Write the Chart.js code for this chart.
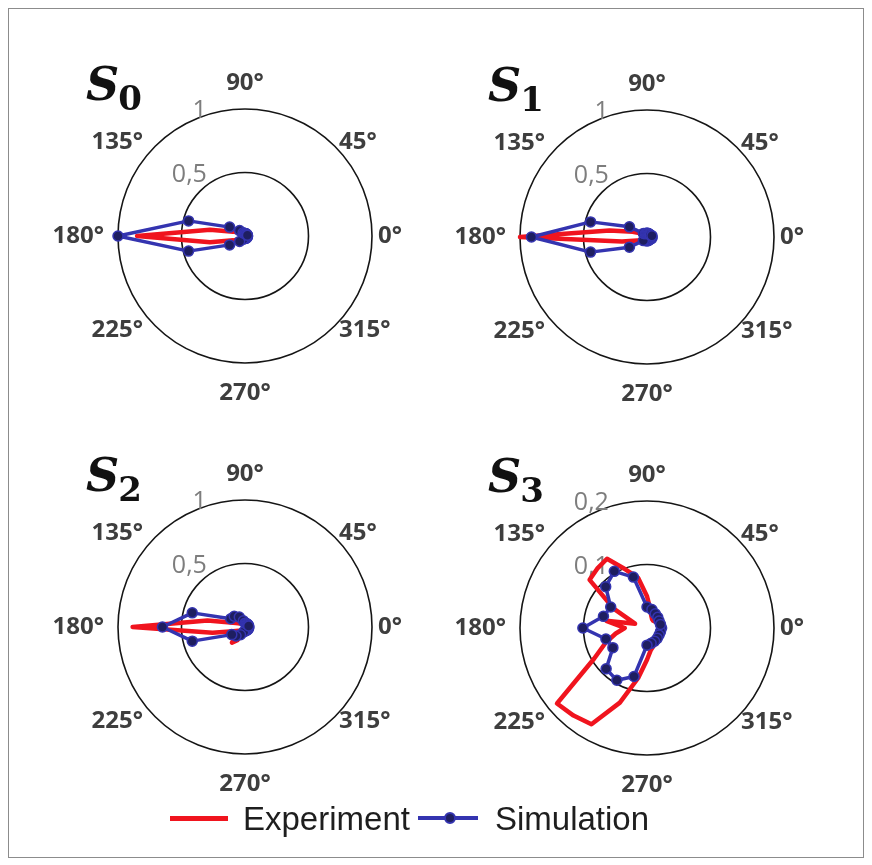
<!DOCTYPE html>
<html>
<head>
<meta charset="utf-8">
<script src="https://cdn.jsdelivr.net/npm/chart.js@4.4.1/dist/chart.umd.min.js"></script>
<style>
  html, body { margin: 0; padding: 0; background: #fff; }
  #fig { position: relative; width: 872px; height: 865px; overflow: hidden; background: #fff; }
  #frame { position: absolute; left: 8px; top: 8px; width: 856px; height: 850px;
           border: 1px solid #8c8c8c; box-sizing: border-box; }
  canvas { position: absolute; }
  .leg-text { position: absolute; font: 33px "Liberation Sans", Arial, sans-serif; color: #1e1e1e;
              line-height: 33px; white-space: nowrap; }
  .leg-line { position: absolute; height: 5px; }
  .leg-dot { position: absolute; width: 8px; height: 8px; border-radius: 50%;
             background: #1e1e60; border: 2px solid #3434b0; }
</style>
</head>
<body>
<div id="fig">
  <div id="frame"></div>
  <canvas id="pS0" width="400" height="380" style="left:45px;top:46px"></canvas>
  <canvas id="pS1" width="400" height="380" style="left:447px;top:47px"></canvas>
  <canvas id="pS2" width="400" height="380" style="left:45px;top:437px"></canvas>
  <canvas id="pS3" width="400" height="380" style="left:447px;top:438px"></canvas>

  <div class="leg-line" style="left:170px;top:816px;width:58px;background:#f0141e"></div>
  <div class="leg-text" style="left:243px;top:802px">Experiment</div>
  <div class="leg-line" style="left:418px;top:816px;width:60px;height:4px;background:#3434b0"></div>
  <div class="leg-dot" style="left:444px;top:812px"></div>
  <div class="leg-text" style="left:495px;top:802px">Simulation</div>
</div>

<script>
// Polar angles in degrees, counter-clockwise from 0° (east)
const simAngles = [0, 15, 30, 45, 60, 75, 90, 105, 120, 135, 150, 165,
                   180, 195, 210, 225, 240, 255, 270, 285, 300, 315, 330, 345];
const expAngles = [0, 10, 20, 30, 40, 50, 60, 70, 80, 90, 100, 110,
                   120, 130, 140, 150, 160, 170, 180, 190, 200, 210, 220, 230,
                   240, 250, 260, 270, 280, 290, 300, 310, 320, 330, 340, 350];

// Angular tick labels
const angleTickDegrees = [0, 45, 90, 135, 180, 225, 270, 315];
const angleTickLabels = ['0°', '45°', '90°', '135°', '180°', '225°', '270°', '315°'];

// Radial ticks and their labels
const radialTicksUnit = [0.5, 1];
const radialLabelsUnit = ['0,5', '1'];
const radialTicksS3 = [0.1, 0.2];
const radialLabelsS3 = ['0,1', '0,2'];

// S0
const s0Simulation = [0.02, 0.02, 0.02, 0.02, 0.02, 0.02, 0.02, 0.02, 0.03, 0.06, 0.14, 0.46,
                      1.0, 0.46, 0.14, 0.06, 0.03, 0.02, 0.02, 0.02, 0.02, 0.02, 0.02, 0.02];
const s0Experiment = [0.03, 0.03, 0.03, 0.03, 0.03, 0.03, 0.03, 0.03, 0.03, 0.03, 0.03, 0.03,
                      0.03, 0.03, 0.04, 0.05, 0.1, 0.28, 0.85, 0.28, 0.1, 0.05, 0.04, 0.03,
                      0.03, 0.03, 0.03, 0.03, 0.03, 0.03, 0.03, 0.03, 0.03, 0.03, 0.03, 0.03];

// S1
const s1Simulation = [0.04, 0.04, 0.03, 0.03, 0.03, 0.03, 0.03, 0.03, 0.03, 0.04, 0.16, 0.46,
                      0.91, 0.46, 0.16, 0.04, 0.03, 0.03, 0.03, 0.03, 0.03, 0.03, 0.03, 0.04];
const s1Experiment = [0.04, 0.04, 0.03, 0.03, 0.03, 0.03, 0.03, 0.03, 0.03, 0.03, 0.03, 0.03,
                      0.03, 0.03, 0.04, 0.06, 0.12, 0.3, 1.0, 0.2, 0.08, 0.05, 0.04, 0.03,
                      0.03, 0.03, 0.03, 0.03, 0.03, 0.03, 0.03, 0.03, 0.03, 0.03, 0.03, 0.04];

// S2
const s2Simulation = [0.03, 0.03, 0.03, 0.03, 0.03, 0.03, 0.03, 0.05, 0.09, 0.12, 0.13, 0.43,
                      0.65, 0.43, 0.12, 0.1, 0.07, 0.04, 0.03, 0.03, 0.03, 0.03, 0.03, 0.03];
const s2Experiment = [0.03, 0.03, 0.03, 0.03, 0.03, 0.03, 0.03, 0.03, 0.03, 0.03, 0.03, 0.03,
                      0.03, 0.03, 0.04, 0.06, 0.1, 0.3, 0.885, 0.26, 0.1, 0.06, 0.08, 0.16,
                      0.12, 0.04, 0.03, 0.03, 0.03, 0.03, 0.03, 0.03, 0.03, 0.03, 0.03, 0.03];

// S3
const s3Simulation = [0.023, 0.022, 0.022, 0.024, 0.026, 0.03, 0.033, 0.083, 0.103, 0.092, 0.066, 0.071,
                      0.101, 0.067, 0.062, 0.091, 0.095, 0.079, 0.027, 0.025, 0.024, 0.023, 0.022, 0.022];
const s3Experiment = [0.024, 0.023, 0.02, 0.018, 0.016, 0.015, 0.016, 0.02, 0.03, 0.05, 0.08, 0.098,
                      0.126, 0.122, 0.118, 0.06, 0.02, 0.065, 0.035, 0.05, 0.07, 0.096, 0.185, 0.18,
                      0.175, 0.125, 0.08, 0.05, 0.035, 0.03, 0.028, 0.027, 0.026, 0.025, 0.024, 0.024];

// The radial axis is split into 5° slots, running clockwise from east.
const SLOT = 5;
const SLOTS = 360 / SLOT;
const slotOf = deg => ((SLOTS - Math.round(deg / SLOT)) % SLOTS);
const slotLabels = Array.from({ length: SLOTS }, (_, i) => ((360 - i * SLOT) % 360) + '°');

function toSlots(angles, values) {
  const out = new Array(SLOTS).fill(null);
  angles.forEach((a, i) => { out[slotOf(a)] = values[i]; });
  return out;
}

const RED = '#f0141e';
const BLUE = '#3434b0';

const polarDecor = {
  id: 'polarDecor',
  beforeDatasetsDraw(chart, args, opts) {
    const r = chart.scales.r;
    const ctx = chart.ctx;
    ctx.save();
    ctx.font = '25px "Open Sans"';
    ctx.fillStyle = '#7d7d7d';
    ctx.textAlign = 'right';
    ctx.textBaseline = 'middle';
    opts.radialTicks.forEach((v, i) => {
      const d = r.getDistanceFromCenterForValue(v);
      ctx.fillText(opts.radialLabels[i], r.xCenter - 0.3 * r.drawingArea, r.yCenter - d + 2);
    });
    ctx.restore();
  },
  afterDraw(chart, args, opts) {
    const r = chart.scales.r;
    const ctx = chart.ctx;
    const R = r.drawingArea;
    ctx.save();
    ctx.font = 'bold 24px "Open Sans"';
    ctx.fillStyle = '#3e3e3e';
    ctx.textBaseline = 'middle';
    angleTickDegrees.forEach((deg, i) => {
      const c = Math.cos(deg * Math.PI / 180);
      let p;
      if (Math.abs(c) < 0.01) {
        p = r.getPointPosition(slotOf(deg), R + (deg === 90 ? 26 : 30));
        ctx.textAlign = 'center';
      } else {
        p = r.getPointPosition(slotOf(deg), R + 6);
        ctx.textAlign = c > 0 ? 'left' : 'right';
        if (c < 0) p.x -= 8;
      }
      ctx.fillText(angleTickLabels[i], p.x, p.y);
    });

    // panel title: italic S with an upright subscript
    const tx = r.xCenter - 159;
    const ty = r.yCenter - 136;
    ctx.textAlign = 'left';
    ctx.textBaseline = 'alphabetic';
    ctx.fillStyle = '#111';
    ctx.font = 'italic bold 46px "DejaVu Serif"';
    ctx.fillText(opts.title, tx, ty);
    const w = ctx.measureText(opts.title).width;
    ctx.font = 'bold 34px "DejaVu Serif"';
    ctx.fillText(opts.sub, tx + w - 1, ty + 10);
    ctx.restore();
  }
};

function makePolar(id, sim, exp, ticks, labels, sub) {
  const max = ticks[ticks.length - 1];
  new Chart(document.getElementById(id), {
    type: 'radar',
    data: {
      labels: slotLabels,
      datasets: [
        {
          label: 'Simulation',
          data: toSlots(simAngles, sim),
          borderColor: BLUE,
          borderWidth: 3.5,
          pointRadius: 5,
          pointBorderWidth: 1.5,
          pointBackgroundColor: '#1e1e60',
          pointBorderColor: BLUE,
          fill: false,
          spanGaps: true,
          order: 0
        },
        {
          label: 'Experiment',
          data: toSlots(expAngles, exp),
          borderColor: RED,
          borderWidth: 4.5,
          pointRadius: 0,
          fill: false,
          spanGaps: true,
          order: 1
        }
      ]
    },
    options: {
      responsive: false,
      animation: false,
      devicePixelRatio: 1,
      events: [],
      layout: { padding: { left: 73, right: 72, top: 63, bottom: 62 } },
      elements: { line: { tension: 0, borderJoinStyle: 'round' } },
      plugins: {
        legend: { display: false },
        tooltip: { enabled: false },
        polarDecor: { radialTicks: ticks, radialLabels: labels, title: 'S', sub: sub }
      },
      scales: {
        r: {
          min: 0,
          max: max,
          startAngle: 90,
          ticks: { display: false, stepSize: ticks[0] },
          grid: { circular: true, color: '#151515', lineWidth: 1.6 },
          angleLines: { display: false },
          pointLabels: { display: false }
        }
      }
    },
    plugins: [polarDecor]
  });
}

makePolar('pS0', s0Simulation, s0Experiment, radialTicksUnit, radialLabelsUnit, '0');
makePolar('pS1', s1Simulation, s1Experiment, radialTicksUnit, radialLabelsUnit, '1');
makePolar('pS2', s2Simulation, s2Experiment, radialTicksUnit, radialLabelsUnit, '2');
makePolar('pS3', s3Simulation, s3Experiment, radialTicksS3, radialLabelsS3, '3');
</script>
</body>
</html>
